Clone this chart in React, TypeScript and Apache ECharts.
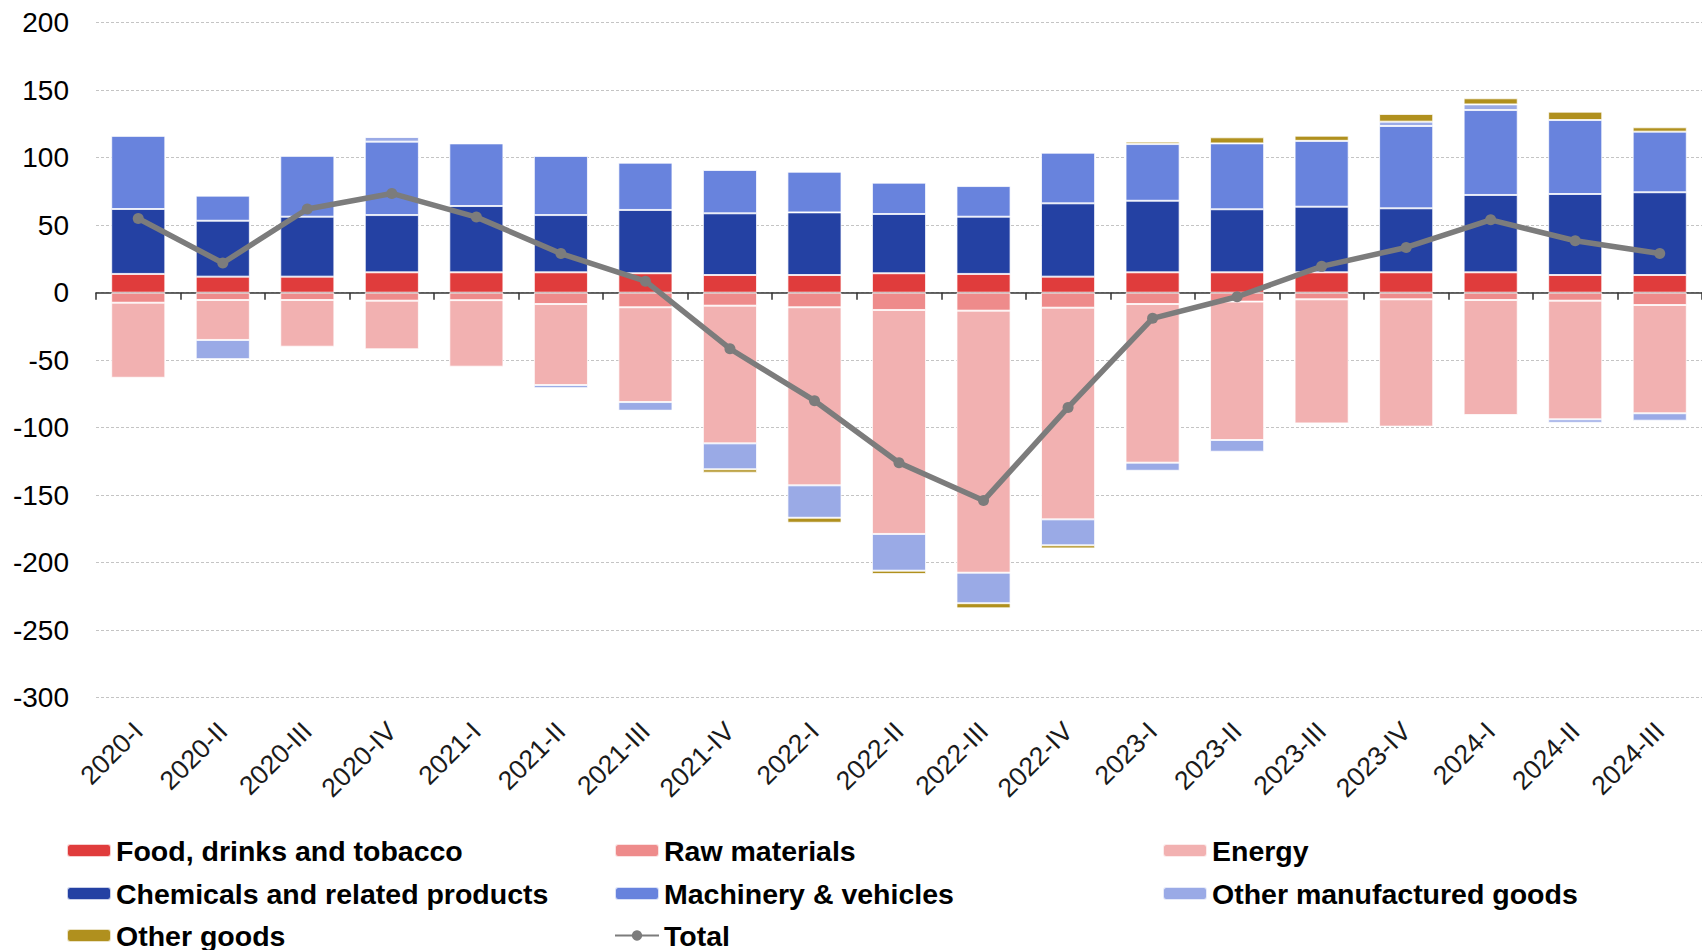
import React, { useEffect, useRef } from "react";
import * as echarts from "echarts";

const categories = [
  "2020-I", "2020-II", "2020-III", "2020-IV",
  "2021-I", "2021-II", "2021-III", "2021-IV",
  "2022-I", "2022-II", "2022-III", "2022-IV",
  "2023-I", "2023-II", "2023-III", "2023-IV",
  "2024-I", "2024-II", "2024-III",
];

const food = [13.9, 11.9, 11.9, 15.1, 15.1, 15.1, 14.4, 13.1, 13.1, 14.4, 13.9, 11.9, 15.1, 15.1, 15.1, 15.1, 15.1, 13.1, 13.1];
const rawMaterials = [-7.4, -5.4, -5.4, -5.9, -5.5, -8.4, -10.8, -9.6, -10.8, -12.8, -13.3, -11.1, -8.4, -6.6, -4.9, -4.9, -5.4, -5.9, -9.1];
const energy = [-55.6, -29.6, -34.6, -36.0, -49.3, -60.0, -70.2, -102.0, -131.9, -165.9, -194.1, -156.8, -117.5, -102.5, -91.9, -94.3, -85.2, -87.9, -80.2];
const chemicals = [48.1, 41.4, 44.4, 42.4, 49.1, 42.4, 46.9, 45.7, 46.4, 43.9, 42.4, 54.3, 53.0, 46.7, 48.6, 47.4, 57.3, 60.0, 61.3];
const machinery = [54.3, 18.6, 45.2, 54.4, 46.4, 43.8, 35.0, 32.1, 30.1, 23.2, 22.7, 37.5, 42.0, 48.8, 48.8, 61.0, 62.9, 54.8, 44.9];
const otherManufactured = [0, -14.3, 0, 3.5, 0, -2.4, -6.4, -19.2, -24.0, -27.2, -22.6, -19.2, -6.0, -8.7, 0, 3.2, 4.2, -2.5, -5.5];
const otherGoods = [0, 0, 0, 0, 0, 0, 0, -2.5, -3.7, -2.5, -3.8, -2.3, 1.8, 4.5, 3.8, 5.7, 4.5, 6.2, 3.2];
const total = [55, 22, 62, 73.5, 56, 29, 8.5, -41.5, -80, -126, -154, -85, -19, -3, 19.5, 33.5, 54, 38.5, 29];

const yMin = -300;
const yMax = 200;
const yStep = 50;

const FONT = "'Liberation Sans', Arial, sans-serif";

const barSeries = [
  { name: "Food, drinks and tobacco", data: food, color: "#E03C3C" },
  { name: "Raw materials", data: rawMaterials, color: "#EE8B8B" },
  { name: "Energy", data: energy, color: "#F2B1B1" },
  { name: "Chemicals and related products", data: chemicals, color: "#2441A3" },
  { name: "Machinery & vehicles", data: machinery, color: "#6883DD" },
  { name: "Other manufactured goods", data: otherManufactured, color: "#9AAAE6" },
  { name: "Other goods", data: otherGoods, color: "#B0901E" },
];

const legendLayout = [
  { name: "Food, drinks and tobacco", left: 66, top: 836 },
  { name: "Raw materials", left: 614, top: 836 },
  { name: "Energy", left: 1162, top: 836 },
  { name: "Chemicals and related products", left: 66, top: 879 },
  { name: "Machinery & vehicles", left: 614, top: 879 },
  { name: "Other manufactured goods", left: 1162, top: 879 },
  { name: "Other goods", left: 66, top: 921 },
  { name: "Total", left: 614, top: 921 },
];

export default function App() {
  const ref = useRef<HTMLDivElement>(null);

  useEffect(() => {
    if (!ref.current) return;
    const chart = echarts.init(ref.current, undefined, { renderer: "svg" });

    const series: any[] = barSeries.map((s) => ({
      name: s.name,
      type: "bar",
      stack: "trade",
      data: s.data,
      barWidth: "64%",
      itemStyle: {
        color: s.color,
        borderColor: "rgba(255,255,255,0.75)",
        borderWidth: 1,
      },
      z: 2,
    }));

    series.push({
      name: "Total",
      type: "line",
      data: total,
      symbol: "circle",
      symbolSize: 11,
      lineStyle: { color: "#7c7c7c", width: 5.5 },
      itemStyle: { color: "#7c7c7c" },
      z: 5,
    });

    const legends = legendLayout.map((l) => ({
      data: [l.name],
      left: l.left,
      top: l.top,
      padding: 0,
      itemWidth: 44,
      itemHeight: 13,
      itemGap: 0,
      selectedMode: false,
      textStyle: {
        fontFamily: FONT,
        fontSize: 28.5,
        fontWeight: "bold",
        color: "#000",
        padding: [0, 0, 0, 0],
      },
    }));

    chart.setOption({
      animation: false,
      backgroundColor: "#fff",
      grid: { left: 96, right: -4, top: 22.7, bottom: 252.3, containLabel: false },
      legend: legends,
      xAxis: [
        {
          type: "category",
          data: categories,
          position: "bottom",
          boundaryGap: true,
          axisLine: { show: false, onZero: false },
          axisTick: { show: false },
          splitLine: { show: false },
          axisLabel: {
            interval: 0,
            rotate: 45,
            margin: 29,
            fontFamily: FONT,
            fontSize: 26.5,
            color: "#1a1a1a",
          },
        },
        {
          type: "category",
          data: categories,
          position: "top",
          boundaryGap: true,
          axisLine: { show: true, onZero: true, lineStyle: { color: "#333", width: 1.5 } },
          axisTick: { show: true, inside: true, length: 7, lineStyle: { color: "#333", width: 1.5 } },
          axisLabel: { show: false },
          splitLine: { show: false },
        },
      ],
      yAxis: {
        type: "value",
        min: yMin,
        max: yMax,
        interval: yStep,
        axisLine: { show: false },
        axisTick: { show: false },
        axisLabel: {
          margin: 27,
          fontFamily: FONT,
          fontSize: 28,
          color: "#000",
        },
        splitLine: {
          show: true,
          lineStyle: { color: "#c4c4c4", width: 1, type: [3, 2] },
        },
      },
      series,
    });

    return () => {
      chart.dispose();
    };
  }, []);

  return (
    <div
      ref={ref}
      style={{ position: "fixed", left: 0, top: 0, width: 1702, height: 950, background: "#fff" }}
    />
  );
}
